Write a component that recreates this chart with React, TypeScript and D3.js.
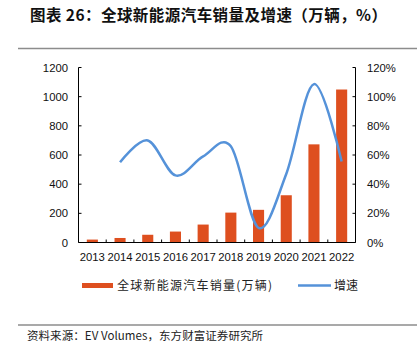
import React from "react";
import * as d3 from "d3";

const years = ["2013","2014","2015","2016","2017","2018","2019","2020","2021","2022"];
const sales = [20, 31, 53, 75, 123, 205, 224, 324, 673, 1049];
const growthYears = ["2014","2015","2016","2017","2018","2019","2020","2021","2022"];
const growth = [55, 70, 46, 59, 66, 10, 47, 108.6, 55.5];
const leftTicks = [0, 200, 400, 600, 800, 1000, 1200];
const rightTicks = [0, 20, 40, 60, 80, 100, 120];

const W = 417, H = 358;
const plot = { left: 78.5, right: 355.5, top: 67.5, bottom: 242.5 };
const barColor = "#DE4F1F";
const lineColor = "#5592D9";
const cjk = "'Noto Sans CJK SC', sans-serif";
const latin = "'Liberation Sans', Arial, sans-serif";

export default function App() {
  const x = d3.scaleBand().domain(years).range([plot.left, plot.right]).paddingInner(0).paddingOuter(0);
  const yL = d3.scaleLinear().domain([0, 1200]).range([plot.bottom, plot.top]);
  const yR = d3.scaleLinear().domain([0, 120]).range([plot.bottom, plot.top]);
  const bw = x.bandwidth() * 0.4;
  const line = d3.line<number>()
    .x((_, i) => (x(growthYears[i]) as number) + x.bandwidth() / 2)
    .y((d) => yR(d))
    .curve(d3.curveCardinal.tension(0));

  return (
    <svg width={W} height={H} style={{ position: "absolute", left: 0, top: 0, background: "#fff" }}>
      <text x={30} y={21} fontFamily={cjk} fontWeight={700} fontSize={15.5} fill="#111"
        textLength={357} lengthAdjust="spacing">图表 26：全球新能源汽车销量及增速（万辆，%）</text>
      <line x1={18} x2={417} y1={48.5} y2={48.5} stroke="#8c8c8c" strokeWidth={1.5} />

      {sales.map((v, i) => (
        <rect key={years[i]} x={(x(years[i]) as number) + (x.bandwidth() - bw) / 2} y={yL(v)}
          width={bw} height={plot.bottom - yL(v)} fill={barColor} />
      ))}
      <path d={line(growth) || ""} fill="none" stroke={lineColor} strokeWidth={2.5} />

      {/* left axis */}
      <line x1={plot.left} x2={plot.left} y1={plot.top} y2={plot.bottom} stroke="#000" strokeWidth={1} />
      {leftTicks.map((t) => (
        <g key={"l" + t}>
          <line x1={plot.left} x2={plot.left + 3} y1={yL(t)} y2={yL(t)} stroke="#000" />
          <text x={68} y={yL(t) + 4} textAnchor="end" fontFamily={latin} fontSize={11.3} fill="#111">{t}</text>
        </g>
      ))}
      {/* right axis */}
      <line x1={plot.right} x2={plot.right} y1={plot.top} y2={plot.bottom} stroke="#000" strokeWidth={1} />
      {rightTicks.map((t) => (
        <g key={"r" + t}>
          <line x1={plot.right - 3} x2={plot.right} y1={yR(t)} y2={yR(t)} stroke="#000" />
          <text x={367} y={yR(t) + 4} textAnchor="start" fontFamily={latin} fontSize={11.3} fill="#111">{t}%</text>
        </g>
      ))}
      {/* bottom axis */}
      <line x1={plot.left} x2={plot.right} y1={plot.bottom} y2={plot.bottom} stroke="#000" strokeWidth={1} />
      {years.map((yr, i) => (
        <g key={"b" + yr}>
          {i > 0 && <line x1={x(yr) as number} x2={x(yr) as number} y1={plot.bottom - 3} y2={plot.bottom} stroke="#000" />}
          <text x={(x(yr) as number) + x.bandwidth() / 2} y={261} textAnchor="middle" fontFamily={latin} fontSize={11.3} fill="#111">{yr}</text>
        </g>
      ))}

      {/* legend */}
      <rect x={82} y={283} width={31} height={5} fill={barColor} />
      <text x={117} y={290} fontFamily={cjk} fontSize={12} fill="#222" textLength={155} lengthAdjust="spacing">全球新能源汽车销量(万辆)</text>
      <line x1={298} x2={331} y1={285.5} y2={285.5} stroke={lineColor} strokeWidth={2.5} />
      <text x={334} y={290} fontFamily={cjk} fontSize={12} fill="#222">增速</text>

      <line x1={18} x2={417} y1={325} y2={325} stroke="#8c8c8c" strokeWidth={1.5} />
      <text x={27} y={340} fontFamily={cjk} fontSize={11.5} fill="#222" textLength={236} lengthAdjust="spacing">资料来源：EV Volumes，东方财富证券研究所</text>
    </svg>
  );
}
